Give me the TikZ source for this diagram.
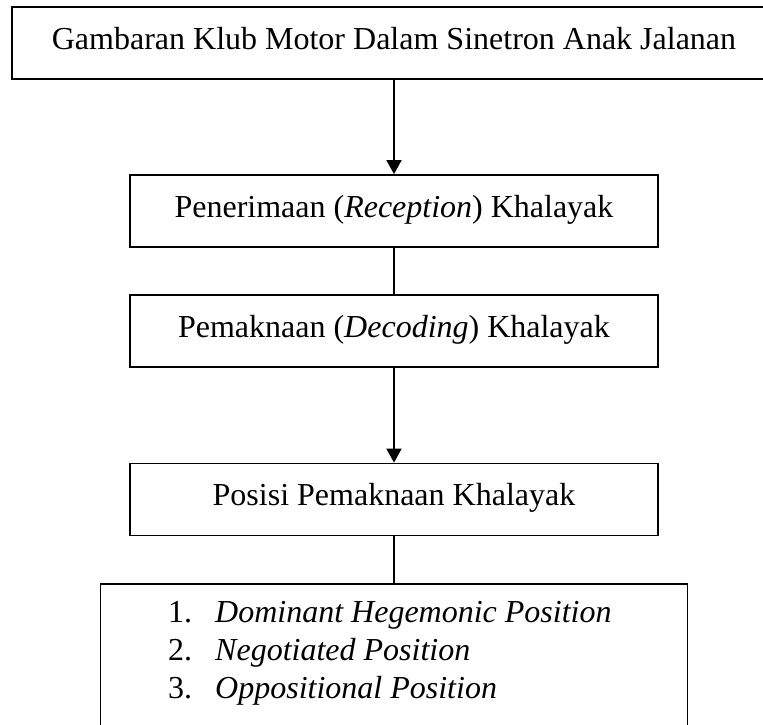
\documentclass[tikz,border=0pt]{standalone}
\usepackage{fontspec}
\setmainfont{Liberation Serif}
\usetikzlibrary{arrows.meta, positioning}

\begin{document}
\begin{tikzpicture}[
  x=1pt, y=-1pt,
  fbox/.style={draw, line width=1.8pt, minimum height=72pt, inner sep=0pt, text height=24pt, text depth=12pt, font=\fontsize{32pt}{38pt}\selectfont},
  midbox/.style={fbox, minimum width=528pt},
  flow/.style={line width=1.8pt, -{Triangle[length=14pt, width=15pt]}},
  link/.style={line width=1.8pt}
]
  \useasboundingbox (0,0) rectangle (763,725);
  \node[fbox, minimum width=764pt] (gambaran) at (394, 43) {Gambaran Klub Motor Dalam Sinetron Anak Jalanan};
  \node[midbox] (penerimaan) at (394, 211) {Penerimaan (\textit{Reception}) Khalayak};
  \node[midbox] (pemaknaan) at (394, 331) {Pemaknaan (\textit{Decoding}) Khalayak};
  \node[midbox] (posisi) at (394, 499.5) {Posisi Pemaknaan Khalayak};
  \node[draw, line width=1.8pt, minimum width=587pt, minimum height=180pt, anchor=north] (jenis) at (394, 583) {};
  \node[anchor=base west, inner sep=0pt, font=\fontsize{32pt}{38pt}\selectfont] (daftar) at (168, 622) {%
    \begin{tabular}[t]{@{}p{47pt}@{}l@{}}
      1. & \textit{Dominant Hegemonic Position}\\
      2. & \textit{Negotiated Position}\\
      3. & \textit{Oppositional Position}
    \end{tabular}};
  \draw[flow] (gambaran.south) -- (penerimaan.north);
  \draw[link] (penerimaan.south) -- (pemaknaan.north);
  \draw[flow] (pemaknaan.south) -- (posisi.north);
  \draw[link] (posisi.south) -- (jenis.north);
\end{tikzpicture}
\end{document}
